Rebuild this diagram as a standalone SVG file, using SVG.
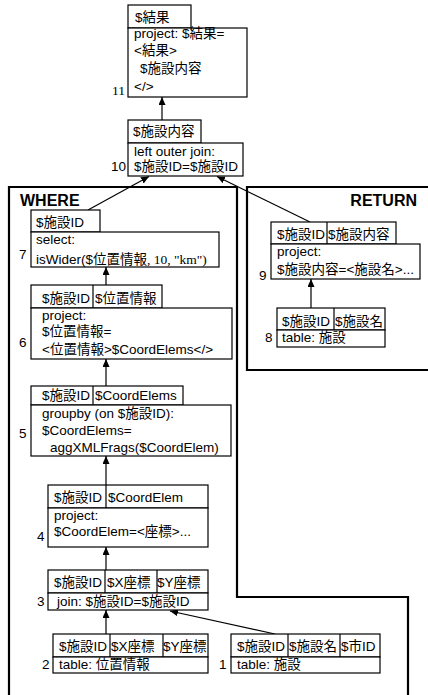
<svg xmlns="http://www.w3.org/2000/svg" width="428" height="695" viewBox="0 0 428 695">
<style>
text{font-family:"Liberation Sans","Noto Sans CJK JP",sans-serif;font-size:13.5px;fill:#000}
.serif{font-family:"Liberation Serif","Noto Sans CJK JP",serif}
.bold{font-weight:bold;font-size:16px}
rect,.box{fill:#fff;stroke:#000;stroke-width:1.2}
.div{stroke:#000;stroke-width:1.2}
.region{fill:none;stroke:#000;stroke-width:2.2}
.conn{stroke:#000;stroke-width:1.2;fill:none}
</style>
<defs>
<marker id="arr" markerUnits="userSpaceOnUse" markerWidth="8" markerHeight="8" refX="8" refY="3.5" orient="auto">
<path d="M0,0 L8,3.5 L0,7 z" fill="#000"/>
</marker>
</defs>
<rect x="-5" y="-5" width="440" height="705" style="fill:#fff;stroke:none"/>

<g id="region-where">
<path class="region" d="M9,700 L9,187 L237,187 L237,597 L408,597 L408,700"/>
<text class="bold" x="20" y="206">WHERE</text>
</g>
<g id="region-return">
<path class="region" d="M440,187 L247,187 L247,370 L440,370"/>
<text class="bold" x="417" y="206" text-anchor="end">RETURN</text>
</g>

<g id="connectors">
<line class="conn" x1="162" y1="120" x2="162" y2="97" marker-end="url(#arr)"/>
<line class="conn" x1="88" y1="210" x2="149" y2="176.5" marker-end="url(#arr)"/>
<line class="conn" x1="310" y1="222" x2="217" y2="176.5" marker-end="url(#arr)"/>
<line class="conn" x1="106" y1="285" x2="106" y2="267" marker-end="url(#arr)"/>
<line class="conn" x1="106" y1="386" x2="106" y2="359" marker-end="url(#arr)"/>
<line class="conn" x1="106" y1="485" x2="106" y2="456" marker-end="url(#arr)"/>
<line class="conn" x1="106" y1="570" x2="106" y2="547" marker-end="url(#arr)"/>
<line class="conn" x1="106" y1="634" x2="106" y2="610" marker-end="url(#arr)"/>
<line class="conn" x1="275" y1="634" x2="170" y2="611" marker-end="url(#arr)"/>
<line class="conn" x1="311" y1="308" x2="311" y2="279" marker-end="url(#arr)"/>
</g>

<g id="node-11">
<rect x="128" y="5" width="63" height="23"/>
<text x="135" y="22">$結果</text>
<rect x="128" y="28" width="119" height="69"/>
<text x="134" y="38">project: $結果=</text>
<text x="134" y="55">&lt;結果&gt;</text>
<text x="140" y="73">$施設内容</text>
<text x="134" y="91">&lt;/&gt;</text>
<text class="serif" x="112" y="95">11</text>
</g>

<g id="node-10">
<rect x="128" y="120" width="73" height="23"/>
<text x="133" y="136">$施設内容</text>
<rect x="128" y="143" width="115" height="33"/>
<text x="134" y="155.5">left outer join:</text>
<text x="134" y="171">$施設ID=$施設ID</text>
<text x="111" y="171">10</text>
</g>

<g id="node-7">
<rect x="31" y="210" width="69" height="22"/>
<text x="36" y="227">$施設ID</text>
<rect x="31" y="232" width="188" height="35"/>
<text x="36" y="244">select:</text>
<text x="36" y="263.5">isWider($位置情報<tspan class="serif">, 10, "km")</tspan></text>
<text x="19" y="258.5">7</text>
</g>

<g id="node-6">
<rect x="31" y="285" width="131" height="23"/>
<line class="div" x1="93" y1="285" x2="93" y2="308"/>
<text x="42" y="302.5">$施設ID</text>
<text x="95" y="302.5">$位置情報</text>
<rect x="31" y="308" width="201" height="51"/>
<text x="42" y="320">project:</text>
<text x="42" y="336">$位置情報=</text>
<text x="42" y="354">&lt;位置情報&gt;$CoordElems&lt;/&gt;</text>
<text x="19" y="347">6</text>
</g>

<g id="node-5">
<rect x="31" y="386" width="152" height="19"/>
<line class="div" x1="93" y1="386" x2="93" y2="405"/>
<text x="42" y="400">$施設ID</text>
<text x="95" y="400">$CoordElems</text>
<rect x="31" y="405" width="200" height="51"/>
<text x="42" y="418">groupby (on $施設ID):</text>
<text x="42" y="435">$CoordElems=</text>
<text x="50" y="452">aggXMLFrags($CoordElem)</text>
<text x="19" y="438">5</text>
</g>

<g id="node-4">
<rect x="48" y="485" width="160" height="23"/>
<line class="div" x1="106" y1="485" x2="106" y2="508"/>
<text x="54" y="501.5">$施設ID</text>
<text x="108" y="501.5">$CoordElem</text>
<rect x="48" y="508" width="160" height="39"/>
<text x="54" y="519.5">project:</text>
<text x="54" y="535.5">$CoordElem=&lt;座標&gt;...</text>
<text x="37" y="541">4</text>
</g>

<g id="node-3">
<rect x="48" y="570" width="160" height="23"/>
<line class="div" x1="105" y1="570" x2="105" y2="593"/>
<line class="div" x1="157" y1="570" x2="157" y2="593"/>
<text x="54" y="587">$施設ID</text>
<text x="107" y="587">$X座標</text>
<text x="157" y="587">$Y座標</text>
<rect x="48" y="593" width="160" height="17"/>
<text x="57" y="605.5">join: $施設ID=$施設ID</text>
<text x="37" y="605.5">3</text>
</g>

<g id="node-2">
<rect x="53" y="634" width="155" height="23"/>
<line class="div" x1="110" y1="634" x2="110" y2="657"/>
<line class="div" x1="163" y1="634" x2="163" y2="657"/>
<text x="59" y="651">$施設ID</text>
<text x="111" y="651">$X座標</text>
<text x="163" y="651">$Y座標</text>
<rect x="53" y="657" width="155" height="16"/>
<text x="59" y="668.5">table: 位置情報</text>
<text x="42" y="668.5">2</text>
</g>

<g id="node-1">
<rect x="231" y="634" width="149" height="23"/>
<line class="div" x1="288" y1="634" x2="288" y2="657"/>
<line class="div" x1="340" y1="634" x2="340" y2="657"/>
<text x="237" y="651">$施設ID</text>
<text x="289" y="651">$施設名</text>
<text x="341" y="651">$市ID</text>
<rect x="231" y="657" width="149" height="16"/>
<text x="237" y="668.5">table: 施設</text>
<text x="219" y="668.5">1</text>
</g>

<g id="node-9">
<rect x="271" y="222" width="125" height="22"/>
<line class="div" x1="327" y1="222" x2="327" y2="244"/>
<text x="277" y="238.5">$施設ID</text>
<text x="328" y="238.5">$施設内容</text>
<rect x="271" y="244" width="149" height="35"/>
<text x="277" y="256">project:</text>
<text x="277" y="274">$施設内容=&lt;施設名&gt;...</text>
<text x="259" y="279.5">9</text>
</g>

<g id="node-8">
<rect x="277" y="308" width="108" height="22"/>
<line class="div" x1="334" y1="308" x2="334" y2="330"/>
<text x="282" y="325.5">$施設ID</text>
<text x="335" y="325.5">$施設名</text>
<rect x="277" y="330" width="108" height="17"/>
<text x="282" y="342">table: 施設</text>
<text x="265" y="342">8</text>
</g>
</svg>
